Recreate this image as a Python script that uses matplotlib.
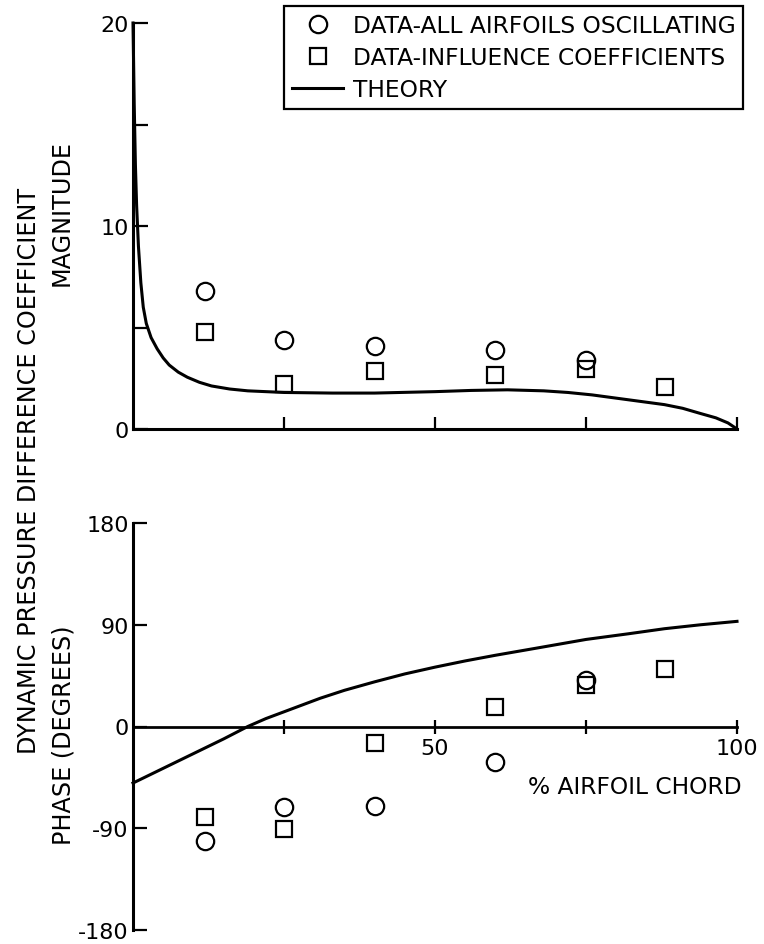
import matplotlib
matplotlib.use("Agg")
import matplotlib.pyplot as plt
from matplotlib.lines import Line2D

plt.rcParams['font.family'] = ['DejaVu Sans']

# ---- data ----
x_all = [12, 25, 40, 60, 75]
mag_all = [6.8, 4.4, 4.1, 3.9, 3.4]
phase_all = [-101, -71, -70, -31, 41]

x_infl = [12, 25, 40, 60, 75, 88]
mag_infl = [4.8, 2.2, 2.85, 2.65, 2.95, 2.05]
phase_infl = [-80, -91, -15, 17, 37, 51]

x_theory_mag = [0, 0.2, 0.4, 0.6, 0.9, 1.3, 1.7, 2.2, 3, 4, 5, 6, 7.5, 9, 11, 13, 16, 19,
                25, 33, 40, 50, 56, 62, 68, 72, 76, 80, 84, 88, 91, 94, 96.5, 98.5, 100]
mag_theory = [20, 16, 13, 11, 9, 7.2, 6.0, 5.2, 4.5, 3.95, 3.5, 3.15, 2.8, 2.55, 2.3, 2.12, 1.97, 1.88,
              1.8, 1.77, 1.77, 1.84, 1.9, 1.93, 1.88, 1.8, 1.68, 1.52, 1.36, 1.2, 1.02, 0.76, 0.55, 0.3, 0]

x_theory_ph = [0, 5, 10, 15, 19, 22, 25, 28, 31, 35, 40, 45, 50, 55, 60, 67, 75, 82, 88, 94, 100]
phase_theory = [-50, -37, -24, -11, 0, 7, 13, 19, 25, 32, 39.5, 46.5, 52.5, 58, 63, 69.5, 77, 82, 86.5, 90, 93]

mag_ticks = [0, 5, 10, 15, 20]
mag_ticklabels = ['0', '', '10', '', '20']
phase_ticks = [-180, -90, 0, 90, 180]
phase_ticklabels = ['-180', '-90', '0', '90', '180']
chord_ticks = [25, 50, 75, 100]
chord_ticklabels = ['', '50', '', '100']

W, H = 764, 945
fig = plt.figure(figsize=(W / 100, H / 100), dpi=100)

FS = 16
FS_LAB = 17.2
FS_LEG = 16.8
LW = 2.2
MS = 12.5
MEW = 1.6

def fx(px):
    return px / W

def fy(py):
    return 1 - py / H

left = fx(133)
width = fx(737) - fx(133)

# ---- top panel: magnitude ----
ax1 = fig.add_axes([left, fy(430), width, fy(24) - fy(430)])
ax1.plot(x_theory_mag, mag_theory, color='black', lw=LW, clip_on=False,
         solid_joinstyle='round')
ax1.plot(x_all, mag_all, linestyle='none', marker='o', ms=MS, mfc='none', mec='black', mew=MEW)
ax1.plot(x_infl, mag_infl, linestyle='none', marker='s', ms=MS - 0.5, mfc='none', mec='black', mew=MEW)
ax1.set_xlim(0, 100)
ax1.set_ylim(0, 20)
for s in ['top', 'right']:
    ax1.spines[s].set_visible(False)
for s in ['left', 'bottom']:
    ax1.spines[s].set_linewidth(LW)
ax1.set_yticks(mag_ticks)
ax1.set_yticklabels(mag_ticklabels)
ax1.set_xticks(chord_ticks)
ax1.set_xticklabels([])
ax1.tick_params(axis='y', direction='in', length=11, width=1.6, pad=3, labelsize=FS)
ax1.tick_params(axis='x', direction='in', length=8.5, width=1.6, labelsize=FS)

# legend
handles = [
    Line2D([], [], linestyle='none', marker='o', ms=MS, mfc='none', mec='black', mew=MEW),
    Line2D([], [], linestyle='none', marker='s', ms=MS - 0.5, mfc='none', mec='black', mew=MEW),
    Line2D([], [], color='black', lw=LW),
]
labels = ['DATA-ALL AIRFOILS OSCILLATING', 'DATA-INFLUENCE COEFFICIENTS', 'THEORY']
leg = fig.legend(handles, labels, loc='upper right', bbox_to_anchor=(fx(743), fy(7)),
                 bbox_transform=fig.transFigure, frameon=True, fancybox=False,
                 edgecolor='black', framealpha=1, fontsize=FS_LEG, borderpad=0.33,
                 labelspacing=0.4, handlelength=2.2, handletextpad=0.4, borderaxespad=0)
leg.get_frame().set_linewidth(1.6)

# ---- bottom panel: phase ----
ax2 = fig.add_axes([left, fy(931), width, fy(524) - fy(931)])
ax2.plot(x_theory_ph, phase_theory, color='black', lw=LW, clip_on=False,
         solid_joinstyle='round')
ax2.plot(x_all, phase_all, linestyle='none', marker='o', ms=MS, mfc='none', mec='black', mew=MEW)
ax2.plot(x_infl, phase_infl, linestyle='none', marker='s', ms=MS - 0.5, mfc='none', mec='black', mew=MEW)
ax2.set_xlim(0, 100)
ax2.set_ylim(-180, 180)
for s in ['top', 'right']:
    ax2.spines[s].set_visible(False)
ax2.spines['left'].set_linewidth(LW)
ax2.spines['bottom'].set_position(('data', 0))
ax2.spines['bottom'].set_linewidth(LW * 0.9)
ax2.set_yticks(phase_ticks)
ax2.set_yticklabels(phase_ticklabels)
ax2.set_xticks(chord_ticks)
ax2.set_xticklabels(chord_ticklabels)
ax2.tick_params(axis='y', direction='in', length=10, width=1.6, pad=3, labelsize=FS)
ax2.tick_params(axis='x', direction='inout', length=10, width=1.6, pad=3, labelsize=FS)
ax2.text(100.8, -53, '% AIRFOIL CHORD', ha='right', va='center', fontsize=FS_LEG)

# ---- axis titles ----
fig.text(fx(62), fy(213), 'MAGNITUDE', rotation=90, ha='center', va='center', fontsize=FS_LAB)
fig.text(fx(29), fy(471), 'DYNAMIC PRESSURE DIFFERENCE COEFFICIENT', rotation=90,
         ha='center', va='center', fontsize=FS_LAB)
fig.text(fx(63), fy(735), 'PHASE (DEGREES)', rotation=90, ha='center', va='center', fontsize=FS_LAB)

fig.savefig('out.png', dpi=100)
